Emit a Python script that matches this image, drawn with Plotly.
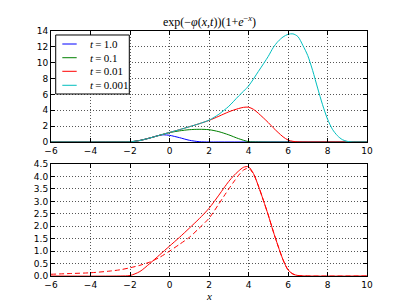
import plotly.graph_objects as go

# ---- data ----
x_t1 = [-6, -2.5, -2, -1.5, -1, -0.5, -0.3, 0, 0.5, 1, 1.5, 2, 2.5, 10]
y_t1 = [0, 0, 0.02, 0.2, 0.5, 0.85, 0.9, 0.84, 0.55, 0.22, 0.04, 0.0, 0, 0]

x_t01 = [-6, -2.5, -2, -1.5, -1, -0.5, 0, 0.5, 1, 1.5, 2, 2.5, 3, 3.5, 4, 4.5, 10]
y_t01 = [0, 0, 0.02, 0.2, 0.5, 0.85, 1.18, 1.4, 1.55, 1.6, 1.55, 1.3, 0.9, 0.42, 0.05, 0, 0]

x_t001 = [-6, -2.5, -2, -1.5, -1, -0.5, 0, 0.5, 1, 1.5, 2, 2.5, 2.75, 3, 3.25, 3.5, 3.75, 4, 4.25,
          4.5, 4.75, 5, 5.25, 5.5, 5.75, 6, 6.25, 6.5, 7, 10]
y_t001 = [0, 0, 0.02, 0.18, 0.5, 0.85, 1.2, 1.55, 1.92, 2.3, 2.72, 3.25, 3.53, 3.8, 4.03, 4.22, 4.37, 4.39, 4.12,
          3.62, 3.05, 2.45, 1.8, 1.2, 0.65, 0.25, 0.08, 0.02, 0, 0]

x_t0001 = [-6, -2.5, -2, -1.5, -1, -0.5, 0, 0.5, 1, 1.5, 2, 2.5, 3, 3.5, 4, 4.5, 5, 5.25, 5.5, 5.75, 6, 6.25,
           6.5, 6.75, 7, 7.25, 7.5, 7.75, 8, 8.25, 8.5, 8.75, 9, 9.25, 9.5, 10]
y_t0001 = [0, 0, 0.02, 0.18, 0.5, 0.85, 1.2, 1.55, 1.92, 2.3, 2.75, 3.5, 4.5, 5.8, 7.06, 8.9, 10.8, 11.9, 12.7, 13.25, 13.58, 13.64,
           13.3, 12.2, 10.9, 9.0, 6.8, 4.7, 2.9, 1.6, 0.8, 0.3, 0.08, 0.01, 0, 0]

x_dash = [-6, -5, -4, -3, -2.5, -2, -1.5, -1, -0.5, 0, 0.5, 1, 1.5, 2, 2.5, 2.75, 3, 3.25, 3.5, 3.75, 4, 4.25,
          4.5, 4.75, 5, 5.25, 5.5, 5.75, 6, 6.25, 6.5, 7, 10]
y_dash = [0.07, 0.1, 0.13, 0.2, 0.25, 0.33, 0.43, 0.56, 0.75, 1.0, 1.27, 1.55, 1.92, 2.32, 2.9, 3.2, 3.5, 3.78, 4.05, 4.26, 4.33, 4.1,
          3.62, 3.05, 2.45, 1.8, 1.2, 0.65, 0.25, 0.08, 0.02, 0, 0]

labels = ["<i>t</i>\u2009=\u20091.0", "<i>t</i>\u2009=\u20090.1", "<i>t</i>\u2009=\u20090.01", "<i>t</i>\u2009=\u20090.001"]
colors = ["#0000ff", "#008000", "#ff0000", "#00bfbf"]
x_ticks = [-6, -4, -2, 0, 2, 4, 6, 8, 10]
top_ticks = [0, 2, 4, 6, 8, 10, 12, 14]
bot_ticks = [0.0, 0.5, 1.0, 1.5, 2.0, 2.5, 3.0, 3.5, 4.0, 4.5]

fig = go.Figure()
series = [(x_t1, y_t1), (x_t01, y_t01), (x_t001, y_t001), (x_t0001, y_t0001)]
for (xs, ys), lab, c in zip(series, labels, colors):
    fig.add_trace(go.Scatter(x=xs, y=ys, mode="lines", name=lab, showlegend=False,
                             line=dict(color=c, width=1, shape="spline", smoothing=0.8),
                             xaxis="x", yaxis="y"))

fig.add_trace(go.Scatter(x=x_t001, y=y_t001, mode="lines", showlegend=False,
                         line=dict(color="#ff0000", width=1, shape="spline", smoothing=0.8),
                         xaxis="x2", yaxis="y2"))
fig.add_trace(go.Scatter(x=x_dash, y=y_dash, mode="lines", showlegend=False,
                         line=dict(color="#ff0000", width=1, dash="5px,3px", shape="spline", smoothing=0.8),
                         xaxis="x2", yaxis="y2"))

axis_common = dict(showline=True, linecolor="black", linewidth=1, mirror="ticks",
                   ticks="inside", ticklen=4, tickcolor="black",
                   showgrid=True, gridcolor="#555555", griddash="1px,2px", gridwidth=0.7,
                   zeroline=False, tickfont=dict(family="DejaVu Sans", size=9, color="black"))

# manual legend (matplotlib-style compact box), in paper coordinates of the plot area
shapes = [dict(type="rect", xref="paper", yref="paper", x0=0.0149, x1=0.2478, y0=0.7429, y1=0.9837,
               line=dict(color="black", width=1), fillcolor="white", layer="above")]
annotations = []
entry_y = [0.9469, 0.891, 0.8355, 0.7784]
for lab, c, ey in zip(labels, colors, entry_y):
    shapes.append(dict(type="line", xref="paper", yref="paper", x0=0.0358, x1=0.0813, y0=ey, y1=ey,
                       line=dict(color=c, width=1), layer="above"))
    annotations.append(dict(text=lab, x=0.1161, y=ey, xref="paper", yref="paper",
                            xanchor="left", yanchor="middle", showarrow=False,
                            font=dict(family="Liberation Serif", size=11, color="black")))

annotations += [
    dict(text="exp(−<i>φ</i>(<i>x</i>,<i>t</i>))(1+<i>e</i><sup>−<i>x</i></sup>)",
         x=0.5, y=1, xref="paper", yref="paper", xanchor="center", yanchor="bottom",
         yshift=0, showarrow=False,
         font=dict(family="Liberation Serif", size=12, color="black")),
    dict(text="<i>x</i>", x=0.5, y=0, xref="paper", yref="paper",
         xanchor="center", yanchor="top", yshift=-12, showarrow=False,
         font=dict(family="Liberation Serif", size=11, color="black")),
]

fig.update_layout(
    width=399, height=299,
    margin=dict(l=43, r=40, t=23, b=31),
    paper_bgcolor="white", plot_bgcolor="white",
    xaxis=dict(domain=[0, 1], range=[-6, 10], tickvals=x_ticks, anchor="y", **axis_common),
    yaxis=dict(domain=[0.547, 1], range=[0, 14], tickvals=top_ticks, anchor="x", **axis_common),
    xaxis2=dict(domain=[0, 1], range=[-6, 10], tickvals=x_ticks, anchor="y2", **axis_common),
    yaxis2=dict(domain=[0, 0.457], range=[0, 4.5], tickvals=bot_ticks,
                ticktext=[f"{v:.1f}" for v in bot_ticks], anchor="x2", **axis_common),
    showlegend=False,
    shapes=shapes,
    annotations=annotations,
)

fig.write_html("out.html")
